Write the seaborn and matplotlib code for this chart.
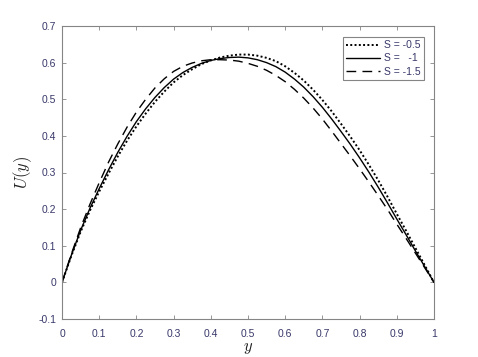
import matplotlib
matplotlib.use("Agg")
import matplotlib.pyplot as plt
import seaborn as sns
import pandas as pd

y_grid = [0.000, 0.025, 0.050, 0.075, 0.100, 0.125, 0.150, 0.175, 0.200, 0.225,
          0.250, 0.275, 0.300, 0.325, 0.350, 0.375, 0.400, 0.425, 0.450, 0.475,
          0.500, 0.525, 0.550, 0.575, 0.600, 0.625, 0.650, 0.675, 0.700, 0.725,
          0.750, 0.775, 0.800, 0.825, 0.850, 0.875, 0.900, 0.925, 0.950, 0.975, 1.000]
u_s05 = [0.000, 0.072, 0.138, 0.196, 0.248, 0.297, 0.344, 0.387, 0.426, 0.461,
         0.493, 0.521, 0.546, 0.566, 0.582, 0.596, 0.606, 0.614, 0.619, 0.622,
         0.622, 0.619, 0.613, 0.604, 0.590, 0.572, 0.551, 0.526, 0.498, 0.467,
         0.433, 0.398, 0.361, 0.321, 0.279, 0.234, 0.187, 0.141, 0.094, 0.047, 0.000]
u_s10 = [0.000, 0.074, 0.142, 0.202, 0.256, 0.307, 0.355, 0.399, 0.439, 0.474,
         0.505, 0.532, 0.555, 0.573, 0.587, 0.598, 0.606, 0.611, 0.614, 0.615,
         0.613, 0.608, 0.600, 0.589, 0.574, 0.555, 0.533, 0.507, 0.478, 0.446,
         0.412, 0.377, 0.340, 0.301, 0.260, 0.217, 0.173, 0.130, 0.086, 0.043, 0.000]
u_s15 = [0.000, 0.077, 0.149, 0.213, 0.272, 0.328, 0.378, 0.424, 0.465, 0.500,
         0.531, 0.556, 0.576, 0.590, 0.599, 0.605, 0.608, 0.608, 0.607, 0.604,
         0.598, 0.590, 0.579, 0.565, 0.548, 0.527, 0.503, 0.476, 0.446, 0.413,
         0.379, 0.345, 0.310, 0.274, 0.237, 0.199, 0.159, 0.120, 0.080, 0.040, 0.000]
labels = ["S = -0.5", "S =   -1", "S = -1.5"]
x_ticks = [0.0, 0.1, 0.2, 0.3, 0.4, 0.5, 0.6, 0.7, 0.8, 0.9, 1.0]
x_ticklabels = ['0', '0.1', '0.2', '0.3', '0.4', '0.5', '0.6', '0.7', '0.8', '0.9', '1']
y_ticks = [-0.1, 0.0, 0.1, 0.2, 0.3, 0.4, 0.5, 0.6, 0.7]
y_ticklabels = ['-0.1', '0', '0.1', '0.2', '0.3', '0.4', '0.5', '0.6', '0.7']

sns.set_style("white")
plt.rcParams['font.family'] = ['Liberation Sans', 'DejaVu Sans']
plt.rcParams['mathtext.fontset'] = 'cm'

fig = plt.figure(figsize=(4.78, 3.57), dpi=100)
ax = fig.add_axes([62/478, 1-319/357, (434-62)/478, (319-26)/357])

txt_col = '#38386a'
edge_col = '#858585'

styles = [dict(linestyle=(0, (1, 1.2)), linewidth=1.4),
          dict(linestyle='-', linewidth=1.0),
          dict(linestyle=(0, (7, 4.5)), linewidth=1.0)]
for vals, lab, st in zip([u_s05, u_s10, u_s15], labels, styles):
    df = pd.DataFrame({"y": y_grid, "U": vals})
    sns.lineplot(data=df, x="y", y="U", ax=ax, color='black', label=lab, **st)

ax.set_xlim(0, 1)
ax.set_ylim(-0.1, 0.7)
ax.set_xticks(x_ticks)
ax.set_xticklabels(x_ticklabels)
ax.set_yticks(y_ticks)
ax.set_yticklabels(y_ticklabels)
ax.tick_params(direction='in', length=3, width=0.6, color=edge_col, labelcolor=txt_col,
               labelsize=7.5, top=True, right=True, bottom=True, left=True)
ax.tick_params(axis='x', pad=7)
ax.tick_params(axis='y', pad=4)
for sp in ax.spines.values():
    sp.set_color(edge_col)
    sp.set_linewidth(0.8)

ax.set_xlabel('$y$', fontsize=12, color='#222222', labelpad=2)
ax.set_ylabel('$U(y)$', fontsize=12, color='#222222', labelpad=3)

leg = ax.legend(loc='upper right', bbox_to_anchor=(0.973, 0.9635), fontsize=7.5,
                frameon=True, fancybox=False, edgecolor=edge_col, framealpha=1,
                handlelength=3.2, handletextpad=0.4, borderpad=0.35, labelspacing=0.3,
                borderaxespad=0)
leg.get_frame().set_linewidth(0.8)
for t in leg.get_texts():
    t.set_color(txt_col)

fig.savefig("out.png", dpi=100)
